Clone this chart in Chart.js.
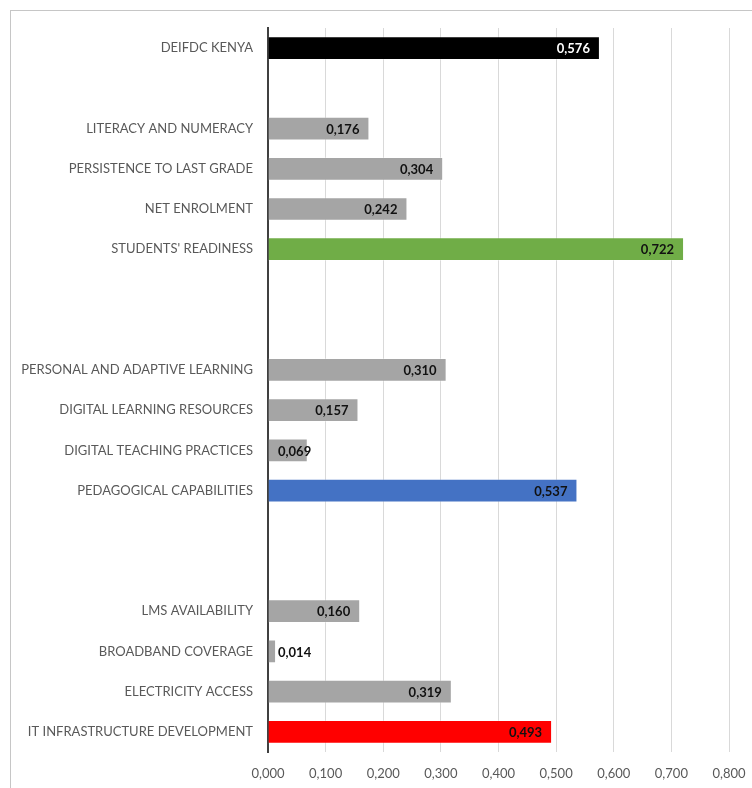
<!DOCTYPE html>
<html>
<head>
<meta charset="utf-8">
<script src="https://cdn.jsdelivr.net/npm/chart.js@4/dist/chart.umd.min.js"></script>
<style>
  html, body { margin: 0; padding: 0; background: #fff; overflow: hidden; }
  #wrap { position: relative; width: 752px; height: 788px; }
  #frame { position: absolute; left: 10px; top: 10px; width: 800px; height: 800px; border: 1px solid #c6c6c6; box-sizing: border-box; }
  #c { position: absolute; left: 0; top: 0; }
</style>
</head>
<body>
<div id="wrap">
  <div id="frame"></div>
  <canvas id="c" width="752" height="788"></canvas>
</div>
<script>
// Indicator scores, top to bottom; blank rows separate the groups.
const categories = [
  'DEIFDC KENYA',
  '',
  'LITERACY AND NUMERACY',
  'PERSISTENCE TO LAST GRADE',
  'NET ENROLMENT',
  "STUDENTS' READINESS",
  '',
  '',
  'PERSONAL AND ADAPTIVE LEARNING',
  'DIGITAL LEARNING RESOURCES',
  'DIGITAL TEACHING PRACTICES',
  'PEDAGOGICAL CAPABILITIES',
  '',
  '',
  'LMS AVAILABILITY',
  'BROADBAND COVERAGE',
  'ELECTRICITY ACCESS',
  'IT INFRASTRUCTURE DEVELOPMENT'
];
const scores = [
  0.576, null,
  0.176, 0.304, 0.242, 0.722,
  null, null,
  0.310, 0.157, 0.069, 0.537,
  null, null,
  0.160, 0.014, 0.319, 0.493
];
const axisTicks = [0, 0.1, 0.2, 0.3, 0.4, 0.5, 0.6, 0.7, 0.8];

// Bar fills: index headline black, pillar totals coloured, sub-indicators grey.
const GREY = '#a5a5a5';
const barColors = [
  '#000000', GREY,
  GREY, GREY, GREY, '#70ad47',
  GREY, GREY,
  GREY, GREY, GREY, '#4472c4',
  GREY, GREY,
  GREY, GREY, GREY, '#ff0000'
];
const labelColors = barColors.map(c => c === '#000000' ? '#ffffff' : '#111111');

const FONT = 'Lato, "Open Sans", sans-serif';
const fmt = v => v.toFixed(3).replace('.', ',');

// Draws each value inside the end of its bar; short bars push it right of the axis.
const valueLabels = {
  id: 'valueLabels',
  afterDatasetsDraw(chart) {
    const ctx = chart.ctx;
    const meta = chart.getDatasetMeta(0);
    const xs = chart.scales.x;
    const base = xs.getPixelForValue(0);
    ctx.save();
    ctx.font = 'bold 13px ' + FONT;
    ctx.textBaseline = 'middle';
    ctx.textAlign = 'left';
    meta.data.forEach((bar, i) => {
      const v = scores[i];
      if (v === null || v === undefined) return;
      const txt = fmt(v);
      const w = ctx.measureText(txt).width;
      const end = xs.getPixelForValue(v);
      const left = Math.max(end - 10 - w, base + 10);
      ctx.fillStyle = labelColors[i];
      ctx.fillText(txt, left, bar.y + 1);
    });
    ctx.restore();
  }
};

new Chart(document.getElementById('c'), {
  type: 'bar',
  data: {
    labels: categories,
    datasets: [{
      data: scores,
      backgroundColor: barColors,
      borderColor: 'rgba(255,255,255,0.3)',
      borderWidth: 1,
      borderSkipped: 'start',
      barPercentage: 1,
      categoryPercentage: 0.59
    }]
  },
  options: {
    indexAxis: 'y',
    responsive: false,
    animation: false,
    devicePixelRatio: 1,
    layout: { padding: { top: 28, right: 23, bottom: 0, left: 0 } },
    plugins: { legend: { display: false }, tooltip: { enabled: false } },
    scales: {
      x: {
        type: 'linear',
        min: 0,
        max: 0.8,
        afterBuildTicks(scale) { scale.ticks = axisTicks.map(v => ({ value: v })); },
        afterFit(scale) {
          scale.height = 36;
          scale.paddingLeft = 0;
          scale.paddingRight = 0;
        },
        grid: { color: '#d9d9d9', lineWidth: 1, drawTicks: false },
        border: { display: false },
        ticks: {
          padding: 14,
          color: '#595959',
          font: { family: FONT, size: 13 },
          maxRotation: 0,
          callback: v => fmt(v)
        }
      },
      y: {
        z: 1,
        afterFit(scale) {
          scale.width = 268;
          scale.paddingTop = 0;
          scale.paddingBottom = 0;
        },
        grid: { display: false, drawTicks: false },
        border: { display: true, color: '#404040', width: 2 },
        ticks: {
          padding: 15,
          color: '#595959',
          font: { family: FONT, size: 13 },
          autoSkip: false
        }
      }
    }
  },
  plugins: [valueLabels]
});
</script>
</body>
</html>
